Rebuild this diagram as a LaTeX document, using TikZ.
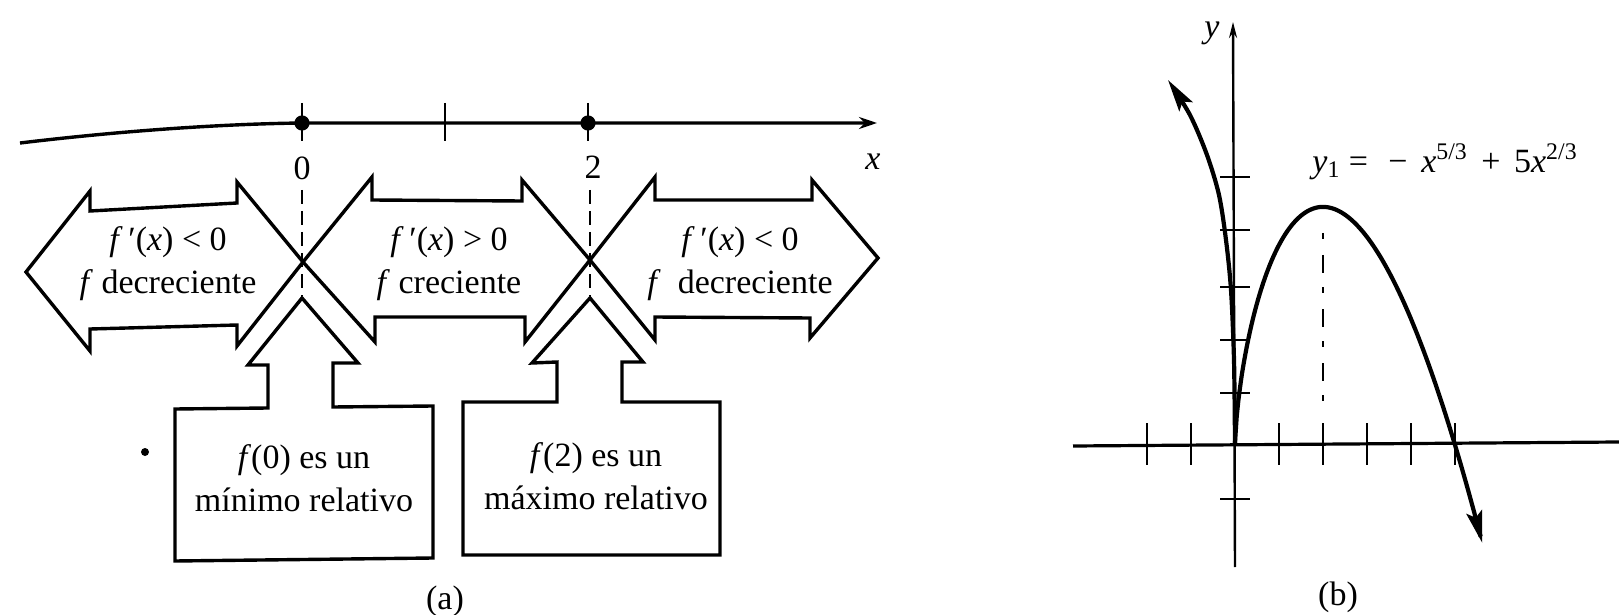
\documentclass[tikz,border=0pt]{standalone}
\usepackage{fontspec}
\setmainfont{Liberation Serif}
\usetikzlibrary{arrows.meta}
\begin{document}
\begin{tikzpicture}[x=0.5pt,y=-0.5pt,
  outline/.style={line width=1.7pt, line join=miter},
  lbl/.style={font=\fontsize{17}{21.5}\selectfont, inner sep=0pt, align=center},
  vdash/.style={line width=1.4pt, dash pattern=on 7pt off 3.5pt},
  axisline/.style={line width=1.2pt},
  tickmark/.style={line width=1.4pt},
  curve/.style={line width=2.1pt, -{Stealth[length=16pt,width=8pt,inset=3pt]}}
]
\useasboundingbox (0,0) rectangle (1619,615);

% ---------- (a) number line ----------
\coordinate (nlstart) at (20,143);
\coordinate (p0) at (302,123);
\coordinate (p1) at (445,123);
\coordinate (p2) at (588,123);
\coordinate (nlend) at (877,123);
\draw[line width=1.7pt, -{Stealth[length=9pt,width=6pt]}] (nlstart) .. controls (120,131) and (220,124) .. (p0) -- (nlend);
\foreach \c in {p0,p1,p2} \draw[tickmark] ([yshift=10pt]\c) -- ([yshift=-9pt]\c);
\fill (p0) circle (3.8pt);
\fill (p2) circle (3.8pt);
\node[lbl] (l0) at (302,168) {0};
\node[lbl] (l2) at (593,167) {2};
\node[lbl] (lx) at (873,162) {\textit{x}};

% dashed verticals
\coordinate (d0a) at (302,190); \coordinate (d0b) at (302,296);
\coordinate (d2a) at (590,190); \coordinate (d2b) at (590,296);
\draw[vdash] (d0a) -- (d0b);
\draw[vdash] (d2a) -- (d2b);

% block double arrows
\draw[outline] (26,272) -- (90,191) -- (90,211) -- (237,203) -- (237,182) -- (303,262)
  -- (237,346) -- (237,325) -- (90,329) -- (90,351) -- cycle;
\draw[outline] (303,262) -- (372,177) -- (372,200) -- (522,201) -- (522,180) -- (590,260)
  -- (525,342) -- (525,317) -- (375,317) -- (375,342) -- cycle;
\draw[outline] (590,260) -- (655,177) -- (655,200) -- (812,200) -- (812,180) -- (878,258)
  -- (810,338) -- (810,318) -- (655,317) -- (655,340) -- cycle;

\node[lbl] (t1) at (168,264) {\textit{f}\,′(\textit{x}) < 0\\\textit{f} decreciente};
\node[lbl] (t2) at (449,264) {\textit{f}\,′(\textit{x}) > 0\\\textit{f} creciente};
\node[lbl] (t3) at (740,264) {\textit{f}\,′(\textit{x}) < 0\\\textit{f}\ \ decreciente};

% boxes with up arrows
\draw[outline] (175,409) -- (268,408) -- (268,365) -- (248,365) -- (302,298) -- (358,363)
  -- (333,363) -- (333,407) -- (433,406) -- (433,558) -- (175,561) -- cycle;
\draw[outline] (463,402) -- (557,402) -- (557,362) -- (532,363) -- (590,298) -- (643,362)
  -- (622,362) -- (622,402) -- (720,402) -- (720,555) -- (463,555) -- cycle;
\node[lbl] (b1) at (304,478) {\textit{f}(0) es un\\mínimo relativo};
\node[lbl] (b2) at (596,476) {\textit{f}(2) es un\\máximo relativo};
\fill (145,452) circle (2pt);
\node[lbl] (capa) at (445,601) {(a)};

% ---------- (b) graph ----------
\coordinate (O) at (1235,445);
\coordinate (xl) at (1073,446);
\coordinate (xr) at (1619,442);
\coordinate (yb) at (1235,567);
\coordinate (yt) at (1233,22);
\draw[line width=1.6pt] (xl) -- (xr);
\draw[axisline, -{Stealth[length=8pt,width=4pt]}] (yb) -- (yt);
\node[lbl] (ly) at (1212,33) {\textit{y}};
\foreach \xx in {1147,1191,1279,1323,1367,1411,1455}
  \draw[tickmark] (\xx,423) -- (\xx,465);
\foreach \yy in {177,230,287,340,393,499}
  \draw[tickmark] (1220,\yy) -- (1250,\yy);
\coordinate (pk) at (1323,233);
\coordinate (pkb) at (1323,412);
\draw[line width=1.1pt, dash pattern=on 3pt off 8pt on 9pt off 7pt] (pk) -- (pkb);

% curve: right branch
\draw[curve] (O) -- plot[domain=0.002:5.62, samples=150]
  ({1235+44*\x},{445-50*(-pow(\x,5/3)+5*pow(\x,2/3))});
% left branch
\draw[curve] plot[smooth] coordinates {(1235,445) (1234,360) (1231,290) (1226,240) (1219,195) (1207,155) (1190,115) (1168,80)};

\node[lbl, anchor=west] (eq) at (1312,162) {\textit{y}\textsubscript{1} =\hspace{0.6em}−\hspace{0.4em}\textit{x}\textsuperscript{5/3}\hspace{0.4em}+\hspace{0.4em}5\textit{x}\textsuperscript{2/3}};
\node[lbl] (capb) at (1338,597) {(b)};
\end{tikzpicture}
\end{document}
